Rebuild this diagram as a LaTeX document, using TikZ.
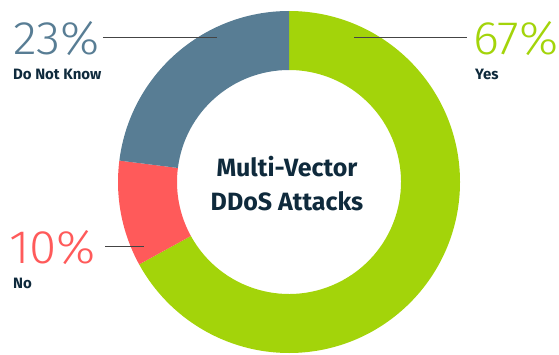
\documentclass[tikz,border=0pt]{standalone}
\usepackage{fontspec}
\setmainfont{Fira Sans}
\newfontfamily\thinfont{Fira Sans Light}
\definecolor{yesgreen}{HTML}{A3D40A}
\definecolor{nored}{HTML}{FF5A5A}
\definecolor{dnkblue}{HTML}{587D94}
\definecolor{darknavy}{HTML}{0F2A3C}
\definecolor{leadgray}{HTML}{444444}
\newcommand{\ringpart}[3]{\fill[#3] (#1:171) arc (#1:#2:171) -- (#2:112) arc (#2:#1:112) -- cycle;}
\tikzset{
  pct/.style={font=\thinfont\fontsize{47}{47}\selectfont, inner sep=0pt, anchor=base west, xscale=1.05, transform shape},
  answer/.style={font=\bfseries\fontsize{15}{15}\selectfont, text=darknavy, inner sep=0pt, anchor=north west},
  leader/.style={draw=leadgray, line width=1pt}
}
\begin{document}
\begin{tikzpicture}[x=1pt, y=1pt]
\useasboundingbox (0,0) rectangle (559,354);
% donut
\begin{scope}[shift={(289,172)}]
\ringpart{90}{-151.2}{yesgreen}
\ringpart{-151.2}{-187.2}{nored}
\ringpart{172.8}{90}{dnkblue}
\end{scope}
\node[font=\bfseries\fontsize{25}{34}\selectfont, text=darknavy, align=center] (title) at (287,170) {Multi-Vector\\DDoS Attacks};
% labels
\node[pct, text=dnkblue] (p23) at (13,299) {23\%};
\node[answer] (a23) at ([yshift=-13pt]p23.south west) {Do Not Know};
\node[pct, text=yesgreen] (p67) at (473,299) {67\%};
\node[answer] (a67) at ([yshift=-13pt,xshift=2pt]p67.south west) {Yes};
\node[pct, text=nored] (p10) at (9,91) {10\%};
\node[answer] (a10) at ([yshift=-14pt,xshift=4pt]p10.south west) {No};
% leader lines
\coordinate (d23) at (217,316);
\coordinate (d67) at (354,316);
\coordinate (d10) at (144,108);
\draw[leader] ([xshift=3pt]p23.east |- d23) -- (d23);
\draw[leader] (d67) -- ([xshift=-6pt]p67.west |- d67);
\draw[leader] ([xshift=9pt]p10.east |- d10) -- (d10);
\end{tikzpicture}
\end{document}
